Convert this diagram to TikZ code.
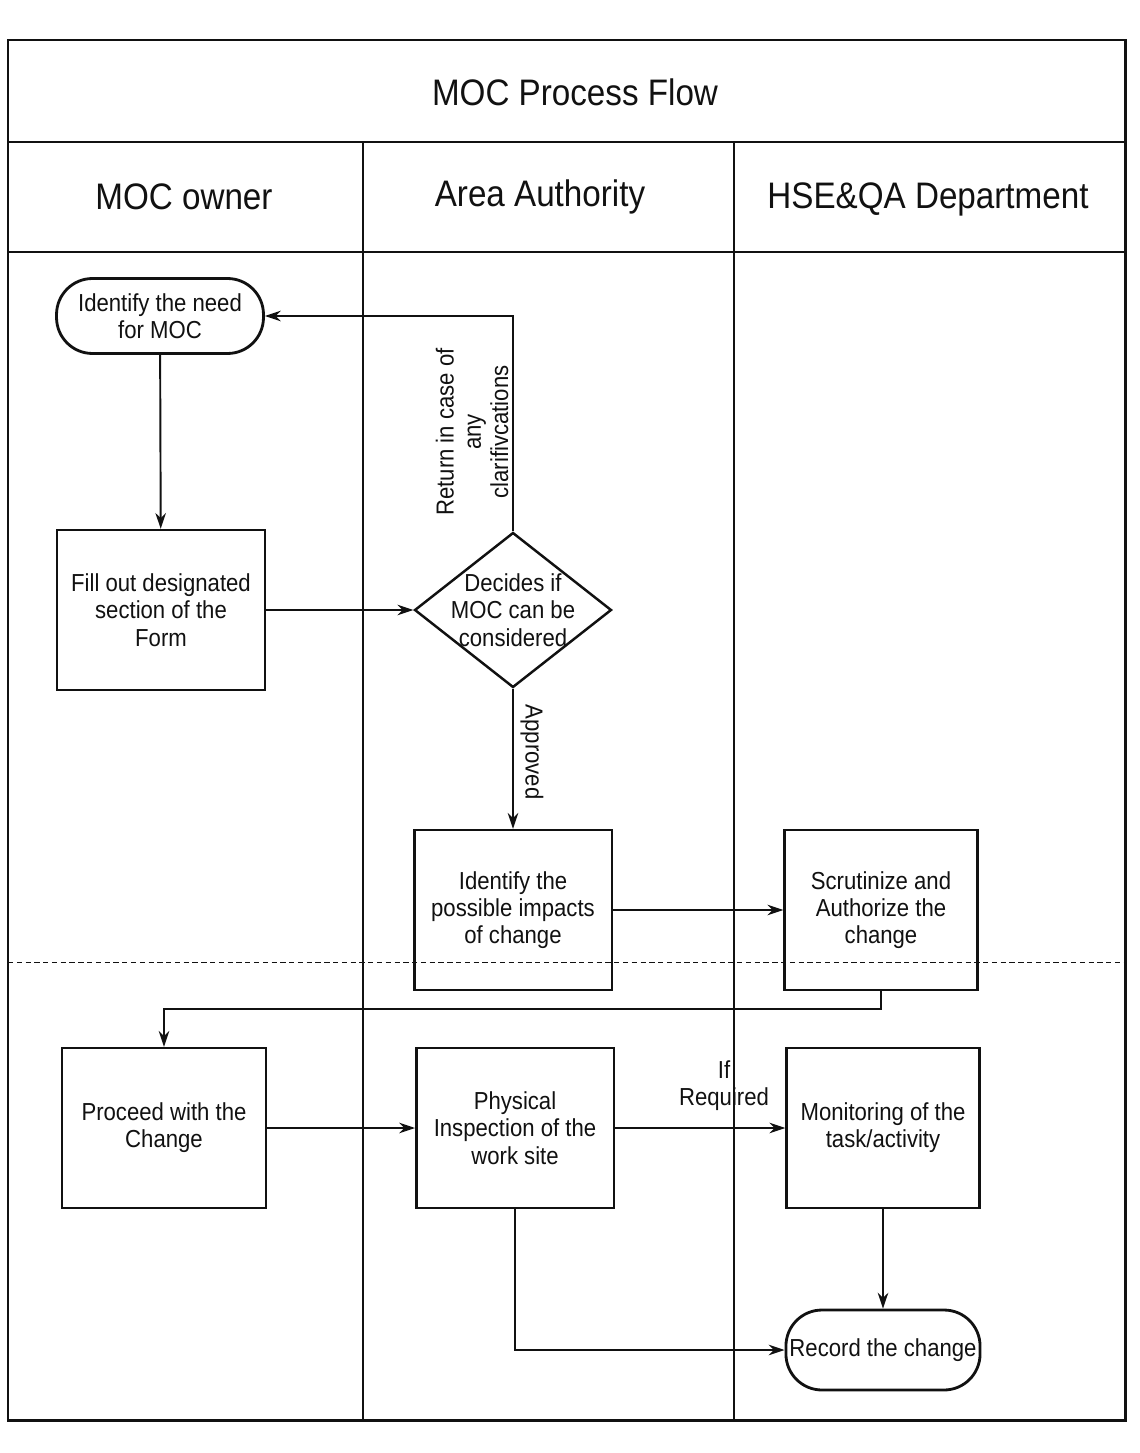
\documentclass[tikz,border=0pt]{standalone}
\usepackage{fontspec}
\setmainfont{Liberation Sans}[FakeStretch=0.9]
\usetikzlibrary{shapes.geometric, arrows.meta, positioning}
\definecolor{cInk}{HTML}{111111}
\definecolor{cPaper}{HTML}{FFFFFF}
\tikzset{
  procbox/.style={
    draw=cInk, rectangle, line width=1.4pt,
    minimum width=#1, minimum height=3.2cm,
    font=\fontsize{14}{15.5}\selectfont, text=cInk,
    align=center, inner sep=2pt,
  },
  procbox/.default=3.95cm,
  termbox/.style={
    draw=cInk, rounded corners=0.72cm, line width=1.6pt,
    minimum width=#1, minimum height=1.5cm,
    font=\fontsize{14}{15.5}\selectfont, text=cInk,
    align=center, inner sep=2pt,
  },
  decbox/.style={
    draw=cInk, diamond, line width=1.4pt,
    minimum width=3.94cm, minimum height=3.1cm, inner sep=0pt,
  },
  lbl/.style={font=\fontsize{14}{15.5}\selectfont, text=cInk, align=center},
  hdr/.style={font=\fontsize{21}{24}\selectfont, text=cInk},
  arw/.style={-{Stealth[length=9pt, width=6pt]}, line width=1.1pt, color=cInk},
  frameline/.style={cInk, line width=1.7pt},
  laneline/.style={cInk, line width=1.1pt},
}
\begin{document}
\begin{tikzpicture}[x=0.02cm, y=-0.02cm]
  \useasboundingbox[fill=cPaper] (0,0) rectangle (1139,1453);

  % Frame, title row and header row
  \draw[frameline] (8,40) rectangle (1125,1420);
  \draw[frameline] (8,142) -- (1125,142);
  \draw[frameline] (8,252) -- (1125,252);
  \draw[laneline] (363,142) -- (363,1420);
  \draw[laneline] (734,142) -- (734,1420);
  \draw[cInk, thin, densely dashed] (8,962) -- (1125,962);

  \node[hdr] (title) at (575,92) {MOC Process Flow};
  \node[hdr] (hOwner) at (184,197) {MOC owner};
  \node[hdr] (hArea) at (540,197) {Area Authority};
  \node[hdr] (hHse) at (928,199) {HSE\&QA Department};

  % Steps
  \node[termbox=4.14cm] (idneed) at (160,316) {Identify the need\\for MOC};
  \node[procbox=4.16cm] (fillform) at (161,610) {Fill out designated\\section of the\\Form};
  \node[decbox] (decide) at (513,610) {};
  \node[lbl] (decidetxt) at (decide) {Decides if\\MOC can be\\considered};
  \node[procbox] (impacts) at (513,910) {Identify the\\possible impacts\\of change};
  \node[procbox=3.86cm] (scrut) at (881,910) {Scrutinize and\\Authorize the\\change};
  \node[procbox=4.08cm] (proceed) at (164,1128) {Proceed with the\\Change};
  \node[procbox] (physical) at (515,1128) {Physical\\Inspection of the\\work site};
  \node[procbox=3.86cm] (monitor) at (883,1128) {Monitoring of the\\task/activity};
  \node[termbox=3.74cm, minimum height=1.6cm] (record) at (883,1350) {Record the change};

  % Connectors
  \draw[arw] (idneed) -- (fillform);
  \draw[arw] (fillform) -- (decide);
  \draw[arw] (decide.north) |- (idneed.east);
  \node[lbl, rotate=90] (retlbl) at (472,432) {Return in case of\\any\\clarifivcations};
  \draw[arw] (decide) -- (impacts);
  \node[lbl, rotate=-90] (applbl) at (532,752) {Approved};
  \draw[arw] (impacts) -- (scrut);
  \draw[arw] (scrut.south) -- ++(0,18) -| (proceed.north);
  \draw[arw] (proceed) -- (physical);
  \draw[arw] (physical) -- (monitor);
  \node[lbl] (reqlbl) at (724,1086) {If\\Required};
  \draw[arw] (monitor) -- (record);
  \draw[arw] (physical.south) |- (record.west);
\end{tikzpicture}
\end{document}
